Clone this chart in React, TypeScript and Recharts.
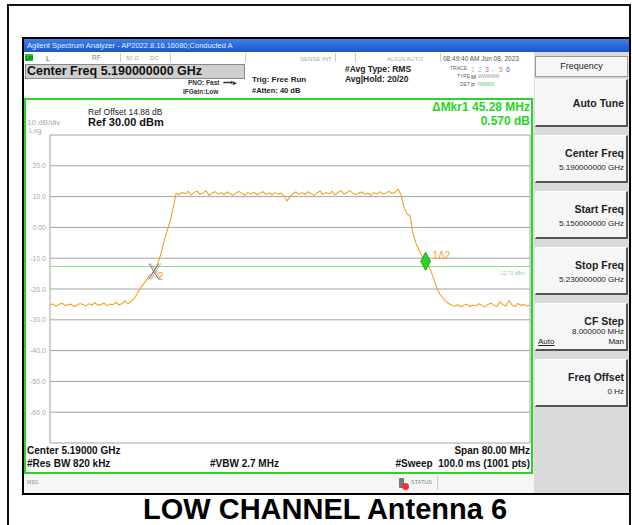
import React from "react";
import {
  LineChart,
  Line,
  XAxis,
  YAxis,
  CartesianGrid,
  ReferenceLine,
  ReferenceDot,
} from "recharts";

// sweep points (MHz), 0.5 MHz apart
const freqMHz = [
  5150, 5150.5, 5151, 5151.5, 5152, 5152.5, 5153, 5153.5, 5154, 5154.5,
  5155, 5155.5, 5156, 5156.5, 5157, 5157.5, 5158, 5158.5, 5159, 5159.5,
  5160, 5160.5, 5161, 5161.5, 5162, 5162.5, 5163, 5163.5, 5164, 5164.5,
  5165, 5165.5, 5166, 5166.5, 5167, 5167.5, 5168, 5168.5, 5169, 5169.5,
  5170, 5170.5, 5171, 5171.5, 5172, 5172.5, 5173, 5173.5, 5174, 5174.5,
  5175, 5175.5, 5176, 5176.5, 5177, 5177.5, 5178, 5178.5, 5179, 5179.5,
  5180, 5180.5, 5181, 5181.5, 5182, 5182.5, 5183, 5183.5, 5184, 5184.5,
  5185, 5185.5, 5186, 5186.5, 5187, 5187.5, 5188, 5188.5, 5189, 5189.5,
  5190, 5190.5, 5191, 5191.5, 5192, 5192.5, 5193, 5193.5, 5194, 5194.5,
  5195, 5195.5, 5196, 5196.5, 5197, 5197.5, 5198, 5198.5, 5199, 5199.5,
  5200, 5200.5, 5201, 5201.5, 5202, 5202.5, 5203, 5203.5, 5204, 5204.5,
  5205, 5205.5, 5206, 5206.5, 5207, 5207.5, 5208, 5208.5, 5209, 5209.5,
  5210, 5210.5, 5211, 5211.5, 5212, 5212.5, 5213, 5213.5, 5214, 5214.5,
  5215, 5215.5, 5216, 5216.5, 5217, 5217.5, 5218, 5218.5, 5219, 5219.5,
  5220, 5220.5, 5221, 5221.5, 5222, 5222.5, 5223, 5223.5, 5224, 5224.5,
  5225, 5225.5, 5226, 5226.5, 5227, 5227.5, 5228, 5228.5, 5229, 5229.5,
  5230,
];

const traceDbm = [
  -25.3, -24.8, -25.6, -25.0, -24.6, -25.4, -25.1, -24.9, -25.7, -25.2,
  -24.7, -25.0, -25.5, -24.8, -25.2, -24.4, -25.3, -25.0, -24.6, -25.4,
  -24.9, -25.1, -24.3, -25.2, -24.7, -23.9, -24.8, -24.0, -23.2, -21.6,
  -19.8, -18.6, -17.3, -15.9, -14.9, -13.5, -11.6, -8.4, -4.6, -1.2,
  1.8, 6.2, 11.0, 10.6, 11.4, 10.9, 11.7, 10.5, 11.3, 11.8,
  10.7, 11.2, 11.9, 10.4, 11.1, 11.6, 10.8, 11.3, 10.6, 11.5,
  11.0, 10.4, 11.2, 11.7, 10.9, 10.5, 11.3, 10.8, 11.4, 10.6,
  11.1, 11.6, 10.7, 11.2, 10.5, 11.3, 10.8, 11.1, 10.2, 8.6,
  9.9, 11.0, 11.5, 10.8, 11.3, 10.6, 11.6, 11.0, 10.4, 11.2,
  11.8, 10.7, 11.3, 10.9, 11.7, 10.5, 11.4, 11.9, 10.8, 11.3,
  12.0, 11.0, 10.6, 11.2, 11.5, 10.7, 11.1, 10.4, 11.3, 10.8,
  11.6, 10.9, 11.2, 11.7, 11.0, 11.4, 12.4, 10.6, 6.5, 4.4,
  3.8, -2.0, -5.2, -7.4, -9.3, -10.6, -12.0, -14.2, -17.0, -19.8,
  -21.8, -23.0, -24.1, -24.8, -25.3, -25.6, -25.1, -25.8, -25.3, -24.9,
  -25.7, -25.2, -25.5, -24.8, -25.4, -25.9, -25.0, -24.6, -25.3, -25.6,
  -24.2, -25.1, -25.5, -23.8, -25.2, -25.7, -24.7, -25.3, -25.0, -25.6,
  -25.2,
];

const xTicks = [5150, 5158, 5166, 5174, 5182, 5190, 5198, 5206, 5214, 5222, 5230];
const yTicks = [30, 20, 10, 0, -10, -20, -30, -40, -50, -60, -70];
const yTickLabels = ["", "20.0", "10.0", "0.00", "-10.0", "-20.0", "-30.0", "-40.0", "-50.0", "-60.0", ""];

const displayLineDbm = -12.7;
const refMarker = { f: 5167.3, level: -14.3 };
const deltaMarker = { f: 5212.6, level: -11.0 };

const softkeys = [
  { title: "Auto Tune", lines: [] as string[] },
  { title: "Center Freq", lines: ["5.190000000 GHz"] },
  { title: "Start Freq", lines: ["5.150000000 GHz"] },
  { title: "Stop Freq", lines: ["5.230000000 GHz"] },
  { title: "CF Step", lines: ["8.000000 MHz", "Auto|Man"] },
  { title: "Freq Offset", lines: ["0 Hz"] },
];

const traceData = freqMHz.map((f, i) => ({ f, level: traceDbm[i] }));

const FONT = "'Liberation Sans', Arial, sans-serif";
const TRACE = "#f2a22c";

function T({
  x,
  y,
  size = 8,
  bold = false,
  color = "#111",
  children,
  right,
}: {
  x: number;
  y: number;
  size?: number;
  bold?: boolean;
  color?: string;
  children: React.ReactNode;
  right?: boolean;
}) {
  const style: React.CSSProperties = {
    position: "absolute",
    top: y,
    fontSize: size,
    fontWeight: bold ? 700 : 400,
    color,
    whiteSpace: "nowrap",
    lineHeight: 1,
  };
  if (right) style.right = 632 - x;
  else style.left = x;
  return <div style={style}>{children}</div>;
}

function YTick(props: any) {
  const { x, y, payload } = props;
  const label = yTickLabels[yTicks.indexOf(payload.value)];
  return (
    <text x={x} y={y} dy={2.5} textAnchor="end" fontSize={7} fill="#a8a8a8" fontFamily={FONT}>
      {label}
    </text>
  );
}

function RefMarkerShape(props: any) {
  const { cx, cy } = props;
  return (
    <g>
      <line x1={cx - 5} y1={cy - 8} x2={cx + 5} y2={cy + 8} stroke="#777" strokeWidth={1} />
      <line x1={cx - 3} y1={cy - 8} x2={cx + 7} y2={cy + 8} stroke="#999" strokeWidth={0.8} />
      <line x1={cx + 5} y1={cy - 8} x2={cx - 5} y2={cy + 8} stroke="#777" strokeWidth={1} />
      <line x1={cx + 7} y1={cy - 8} x2={cx - 3} y2={cy + 8} stroke="#999" strokeWidth={0.8} />
      <text x={cx + 4} y={cy + 9} fontSize={10} fill={TRACE} fontFamily={FONT}>
        2
      </text>
    </g>
  );
}

function DeltaMarkerShape(props: any) {
  const { cx, cy } = props;
  return (
    <g>
      <polygon
        points={`${cx},${cy - 9} ${cx + 5},${cy} ${cx},${cy + 9} ${cx - 5},${cy}`}
        fill="#2bd42b"
        stroke="#139313"
        strokeWidth={0.8}
      />
      <text x={cx + 7} y={cy - 2} fontSize={10} fill={TRACE} fontFamily={FONT}>
        1Δ2
      </text>
    </g>
  );
}

export default function App() {
  return (
    <div
      style={{
        position: "absolute",
        left: 0,
        top: 0,
        width: 632,
        height: 525,
        background: "#fff",
        fontFamily: FONT,
        overflow: "hidden",
      }}
    >
      {/* outer document frame */}
      <div
        style={{
          position: "absolute",
          left: 7,
          top: 4,
          width: 624,
          height: 524,
          border: "2px solid #111",
          boxSizing: "border-box",
        }}
      />

      {/* analyzer window */}
      <div
        style={{
          position: "absolute",
          left: 22,
          top: 37,
          width: 609,
          height: 458,
          border: "2px solid #000",
          boxSizing: "border-box",
          background: "#e4e4e4",
        }}
      />
      <div
        style={{
          position: "absolute",
          left: 24,
          top: 39,
          width: 605,
          height: 13,
          background: "linear-gradient(#3f7fe6, #1d56cc)",
        }}
      />
      <T x={27} y={42} size={7.5} color="#e8eeff">
        Agilent Spectrum Analyzer - AP2022.8.16.16080;Conducted A
      </T>

      {/* status row */}
      <div style={{ position: "absolute", left: 24, top: 52, width: 510, height: 11, background: "#fff", borderBottom: "1px solid #ccc" }} />
      <div style={{ position: "absolute", left: 25, top: 54, width: 8, height: 7, background: "#27c227" }} />
      <T x={25.5} y={55.5} size={5} color="#033">LXI</T>
      <T x={46} y={55} size={7} color="#555">L</T>
      <T x={92} y={55} size={6.5} color="#888">RF</T>
      <T x={126} y={55} size={6} color="#aaa">50 Ω</T>
      <T x={150} y={55} size={6} color="#aaa">DC</T>
      {[120, 170, 245, 335, 355, 440].map((x) => (
        <div key={x} style={{ position: "absolute", left: x, top: 53, width: 1, height: 9, background: "#ccc" }} />
      ))}
      <T x={300} y={55.5} size={6} color="#aaa">SENSE:INT</T>
      <T x={387} y={55.5} size={6} color="#aaa">ALIGN AUTO</T>
      <T x={443} y={55.5} size={6.5} color="#555">08:49:40 AM Jun 08, 2023</T>

      {/* header */}
      <div style={{ position: "absolute", left: 24, top: 63, width: 510, height: 35, background: "#fff" }} />
      <div
        style={{
          position: "absolute",
          left: 25,
          top: 64,
          width: 220,
          height: 15,
          background: "#cfcfcf",
          border: "1px solid #8a8a8a",
          boxSizing: "border-box",
        }}
      />
      <T x={27} y={65} size={12.5} bold>
        Center Freq 5.190000000 GHz
      </T>
      <T x={188} y={80} size={6.5} bold color="#333">PNO: Fast&nbsp;&nbsp;⟶▸</T>
      <T x={183} y={89} size={6.5} bold color="#333">IFGain:Low</T>
      <T x={252} y={76} size={8} bold color="#222">Trig: Free Run</T>
      <T x={252} y={87} size={7.5} bold color="#222">#Atten: 40 dB</T>
      <T x={345} y={65} size={8.5} bold color="#222">#Avg Type: RMS</T>
      <T x={345} y={75} size={8.5} bold color="#222">Avg|Hold: 20/20</T>
      <T x={467} y={66} size={5} color="#666" right>TRACE</T>
      <T x={471} y={66} size={7} color="#f0c040">1</T>
      <T x={478} y={66} size={7} color="#60d8f0">2</T>
      <T x={485} y={66} size={7} color="#e040e0">3</T>
      <T x={492} y={66} size={7} color="#999">-</T>
      <T x={499} y={66} size={7} color="#f07070">5</T>
      <T x={506} y={66} size={7} color="#6060f0">6</T>
      <T x={470} y={74} size={5} color="#666" right>TYPE</T>
      <T x={471} y={74} size={6} color="#444">M</T>
      <T x={478} y={75} size={4.5} color="#999">WWWWW</T>
      <T x={470} y={82} size={5} color="#666" right>DET</T>
      <T x={471} y={82} size={6} color="#444">P</T>
      <T x={478} y={83} size={4.5} color="#5c5">NNNNN</T>

      {/* plot frame */}
      <div
        style={{
          position: "absolute",
          left: 24,
          top: 98,
          width: 509,
          height: 376,
          border: "2px solid #2ad42a",
          boxSizing: "border-box",
          background: "#fff",
        }}
      />
      <T x={27} y={119} size={8} color="#a8a8a8">10 dB/div</T>
      <T x={29} y={127} size={7.5} color="#a8a8a8">Log</T>
      <T x={88} y={108} size={8.5} color="#222">Ref Offset 14.88 dB</T>
      <T x={88} y={117} size={11} bold color="#111">Ref 30.00 dBm</T>
      <T x={530} y={101} size={12} bold color="#27d427" right>ΔMkr1 45.28 MHz</T>
      <T x={530} y={114.5} size={12} bold color="#27d427" right>0.570 dB</T>

      <div style={{ position: "absolute", left: 25, top: 130 }}>
        <LineChart
          width={507}
          height={318}
          data={traceData}
          margin={{ top: 5, right: 2, bottom: 4, left: 0 }}
        >
          <CartesianGrid stroke="#a3a3a3" strokeWidth={1} />
          <XAxis
            dataKey="f"
            type="number"
            domain={[5150, 5230]}
            ticks={xTicks}
            tick={false}
            tickLine={false}
            axisLine={false}
            height={1}
            allowDataOverflow
          />
          <YAxis
            type="number"
            domain={[-70, 30]}
            ticks={yTicks}
            tick={<YTick />}
            tickLine={false}
            axisLine={false}
            tickSize={2}
            tickMargin={2}
            width={25}
            interval={0}
            allowDataOverflow
          />
          <ReferenceLine
            y={displayLineDbm}
            stroke="#86e486"
            strokeWidth={1.2}
            label={{ value: "-12.73 dBm", position: "insideTopRight", fill: "#9ad09a", fontSize: 5 }}
          />
          <Line
            type="linear"
            dataKey="level"
            stroke={TRACE}
            strokeWidth={1.1}
            dot={false}
            isAnimationActive={false}
          />
          <ReferenceDot x={refMarker.f} y={refMarker.level} shape={<RefMarkerShape />} />
          <ReferenceDot x={deltaMarker.f} y={deltaMarker.level} shape={<DeltaMarkerShape />} />
        </LineChart>
      </div>

      <T x={27} y={446} size={10} bold>Center 5.19000 GHz</T>
      <T x={27} y={459} size={10} bold>#Res BW 820 kHz</T>
      <T x={210} y={459} size={10} bold>#VBW 2.7 MHz</T>
      <T x={530} y={446} size={10} bold right>Span 80.00 MHz</T>
      <T x={530} y={459} size={10} bold right>#Sweep&nbsp;&nbsp;100.0 ms (1001 pts)</T>

      {/* message bar */}
      <div style={{ position: "absolute", left: 24, top: 474, width: 510, height: 19, background: "#f6f6f6" }} />
      <T x={27} y={480} size={5} color="#888">MSG</T>
      <div style={{ position: "absolute", left: 399, top: 478, width: 5, height: 10, background: "#777", borderRadius: 1 }} />
      <div style={{ position: "absolute", left: 402, top: 483, width: 7, height: 7, background: "#e33", borderRadius: 4 }} />
      <T x={411} y={480} size={5.5} color="#888">STATUS</T>
      <div style={{ position: "absolute", left: 437, top: 476, width: 1, height: 14, background: "#ccc" }} />

      {/* softkey panel */}
      <div style={{ position: "absolute", left: 534, top: 52, width: 94, height: 441, background: "#dadada" }} />
      <div
        style={{
          position: "absolute",
          left: 535,
          top: 56,
          width: 93,
          height: 21,
          background: "#f6f6f6",
          border: "1px solid #999",
          boxSizing: "border-box",
          fontSize: 9,
          color: "#222",
          textAlign: "center",
          lineHeight: "19px",
        }}
      >
        Frequency
      </div>
      {softkeys.map((k, i) => (
        <div
          key={k.title}
          style={{
            position: "absolute",
            left: 535,
            top: 79 + i * 56,
            width: 93,
            height: 48,
            background: "#f6f6f6",
            borderTop: "1px solid #fff",
            borderLeft: "1px solid #fff",
            borderRight: "2px solid #555",
            borderBottom: "2px solid #555",
            boxSizing: "border-box",
          }}
        >
          <div
            style={{
              position: "absolute",
              right: 2,
              top: i === 0 ? 17 : 11,
              fontSize: 10.5,
              fontWeight: 700,
              color: "#222",
              whiteSpace: "nowrap",
            }}
          >
            {k.title}
          </div>
          {k.lines.map((l, j) =>
            l.includes("|") ? (
              <div
                key={l}
                style={{ position: "absolute", left: 2, right: 2, top: 33, fontSize: 8, color: "#222", display: "flex", justifyContent: "space-between" }}
              >
                <span style={{ textDecoration: "underline" }}>{l.split("|")[0]}</span>
                <span>{l.split("|")[1]}</span>
              </div>
            ) : (
              <div
                key={l}
                style={{ position: "absolute", right: 2, top: i === 4 ? 23 : 27 + j * 11, fontSize: 8, color: "#222", whiteSpace: "nowrap" }}
              >
                {l}
              </div>
            )
          )}
        </div>
      ))}

      {/* caption */}
      <T x={143} y={495} size={29} bold color="#000">
        LOW CHANNEL Antenna 6
      </T>
    </div>
  );
}
